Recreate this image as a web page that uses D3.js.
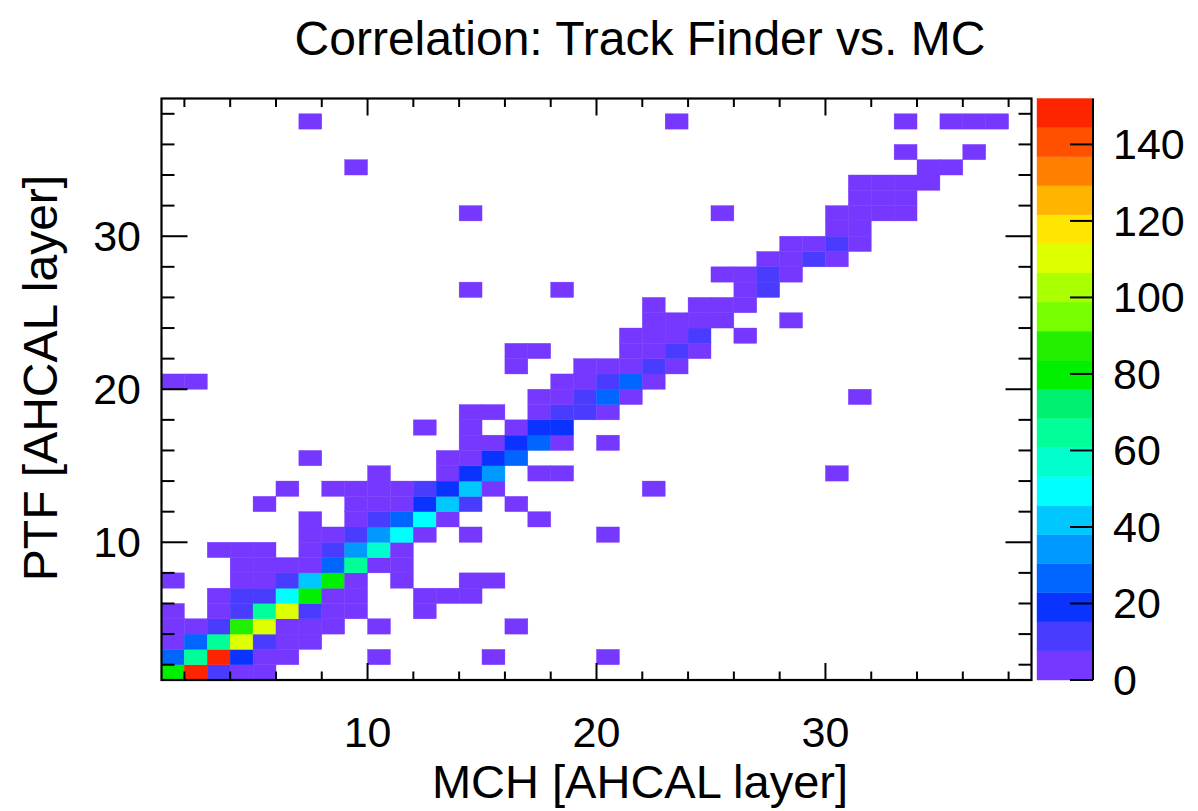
<!DOCTYPE html>
<html><head><meta charset="utf-8">
<script src="https://cdn.jsdelivr.net/npm/d3@7"></script>
<style>
body{margin:0;background:#fff}
svg{display:block}
text{font-family:"Liberation Sans",Arial,Helvetica,sans-serif;fill:#000}
</style>
</head><body>
<svg id="c" width="1198" height="811"></svg>
<script>
// ---------------- data ----------------
const chartTitle = "Correlation: Track Finder vs. MC";
const xTitle = "MCH [AHCAL layer]";
const yTitle = "PTF [AHCAL layer]";
const xDomain = [1, 39];
const yDomain = [1, 39];
const xTickLabels = [10, 20, 30];
const yTickLabels = [10, 20, 30];
const zTickLabels = [0, 20, 40, 60, 80, 100, 120, 140];
const zMax = 152;
const nContours = 20;
const palette = ["#7638ff","#4a3cff","#0a33ff","#0066ff","#0099ff","#00c8ff","#00ffff","#00ffcc",
                 "#00ff99","#00f070","#00f000","#22ee00","#77ff00","#aaff00","#ddff00","#ffe600",
                 "#ffb400","#ff8000","#ff5000","#ff2400"];
// [MCH bin, PTF bin, entries]
const cells = [
 [1,1,80],[2,1,152],[3,1,11],[4,1,5],[5,1,3],
 [1,2,27],[2,2,64],[3,2,146],[4,2,19],[5,2,6],[6,2,2],[10,2,1],[15,2,1],[20,2,1],
 [1,3,4],[2,3,27],[3,3,63],[4,3,110],[5,3,12],[6,3,5],[7,3,2],
 [1,4,3],[2,4,4],[3,4,10],[4,4,85],[5,4,110],[6,4,6],[7,4,4],[8,4,2],[10,4,1],[16,4,1],
 [1,5,2],[3,5,3],[4,5,9],[5,5,63],[6,5,110],[7,5,11],[8,5,4],[9,5,2],[12,5,1],
 [3,6,2],[4,6,9],[5,6,10],[6,6,49],[7,6,80],[8,6,6],[9,6,3],[12,6,1],[13,6,2],[14,6,1],
 [1,7,1],[4,7,3],[5,7,4],[6,7,12],[7,7,42],[8,7,82],[9,7,5],[11,7,2],[14,7,1],[15,7,1],
 [4,8,2],[5,8,3],[6,8,4],[7,8,5],[8,8,27],[9,8,64],[10,8,6],[11,8,3],
 [3,9,1],[4,9,2],[5,9,2],[7,9,3],[8,9,11],[9,9,35],[10,9,57],[11,9,6],
 [7,10,2],[8,10,4],[9,10,12],[10,10,35],[11,10,50],[12,10,5],[14,10,1],[20,10,1],
 [7,11,1],[9,11,3],[10,11,10],[11,11,27],[12,11,49],[13,11,6],[17,11,1],
 [5,12,1],[9,12,2],[10,12,4],[11,12,6],[12,12,19],[13,12,42],[14,12,10],[16,12,2],
 [6,13,1],[8,13,2],[9,13,3],[10,13,4],[11,13,6],[12,13,12],[13,13,19],[14,13,42],[15,13,5],[22,13,1],
 [10,14,1],[13,14,5],[14,14,19],[15,14,35],[17,14,3],[18,14,2],[30,14,1],
 [7,15,1],[13,15,3],[14,15,6],[15,15,20],[16,15,26],
 [14,16,4],[15,16,5],[16,16,18],[17,16,27],[18,16,5],[20,16,1],
 [12,17,1],[14,17,2],[16,17,3],[17,17,19],[18,17,20],
 [14,18,2],[15,18,2],[17,18,4],[18,18,11],[19,18,12],[20,18,3],
 [17,19,3],[18,19,5],[19,19,12],[20,19,28],[21,19,4],[31,19,1],
 [1,20,1],[2,20,1],[18,20,4],[19,20,5],[20,20,12],[21,20,26],[22,20,4],
 [16,21,1],[19,21,2],[20,21,4],[21,21,6],[22,21,10],[23,21,4],
 [16,22,2],[17,22,1],[21,22,3],[22,22,6],[23,22,11],[24,22,4],
 [21,23,2],[22,23,4],[23,23,6],[24,23,10],[26,23,1],
 [22,24,2],[23,24,3],[24,24,5],[25,24,4],[28,24,1],
 [22,25,1],[24,25,3],[25,25,5],[26,25,4],
 [14,26,1],[18,26,1],[26,26,6],[27,26,11],
 [25,27,2],[26,27,5],[27,27,12],[28,27,4],
 [27,28,5],[28,28,6],[29,28,11],[30,28,3],
 [28,29,3],[29,29,6],[30,29,12],[31,29,4],
 [30,30,5],[31,30,4],
 [14,31,1],[25,31,1],[30,31,3],[31,31,5],[32,31,4],[33,31,2],
 [31,32,3],[32,32,4],[33,32,3],
 [31,33,2],[32,33,3],[33,33,4],[34,33,2],
 [9,34,1],[34,34,2],[35,34,2],
 [33,35,1],[36,35,1],
 [7,37,1],[23,37,1],[33,37,1],[35,37,1],[36,37,2],[37,37,1]
];

// ---------------- layout ----------------
const plot = {left: 161.5, right: 1031.5, top: 98.5, bottom: 680};
const cbar = {left: 1037, right: 1093};
const svg = d3.select("#c");

const x = d3.scaleLinear().domain(xDomain).range([plot.left, plot.right]);
const y = d3.scaleLinear().domain(yDomain).range([plot.bottom, plot.top]);
const z = d3.scaleLinear().domain([0, zMax]).range([plot.bottom, plot.top]);
const colorOf = v => palette[Math.max(0, Math.min(nContours - 1, Math.floor(v / (zMax / nContours))))];

// cells
svg.append("g").selectAll("rect").data(cells).join("rect")
  .attr("x", d => x(d[0]))
  .attr("y", d => y(d[1] + 1))
  .attr("width", d => x(d[0] + 1) - x(d[0]))
  .attr("height", d => y(d[1]) - y(d[1] + 1))
  .attr("fill", d => colorOf(d[2]))
  .attr("stroke", d => colorOf(d[2]))
  .attr("stroke-width", 0.4);

// ticks
const tickG = svg.append("g").attr("stroke", "#000").attr("stroke-width", 2);
const xt = d3.range(2, 39, 2);
const yt = d3.range(2, 39, 2);
xt.forEach(v => {
  const L = (v % 10 === 0) ? 17 : 8.5;
  tickG.append("line").attr("x1", x(v)).attr("x2", x(v)).attr("y1", plot.bottom).attr("y2", plot.bottom - L);
  tickG.append("line").attr("x1", x(v)).attr("x2", x(v)).attr("y1", plot.top).attr("y2", plot.top + L);
});
yt.forEach(v => {
  const L = (v % 10 === 0) ? 26 : 13;
  tickG.append("line").attr("y1", y(v)).attr("y2", y(v)).attr("x1", plot.left).attr("x2", plot.left + L);
  tickG.append("line").attr("y1", y(v)).attr("y2", y(v)).attr("x1", plot.right).attr("x2", plot.right - L);
});

// frame
svg.append("rect").attr("x", plot.left).attr("y", plot.top)
  .attr("width", plot.right - plot.left).attr("height", plot.bottom - plot.top)
  .attr("fill", "none").attr("stroke", "#000").attr("stroke-width", 2.2);

// tick labels
svg.append("g").selectAll("text").data(xTickLabels).join("text")
  .attr("x", d => x(d)).attr("y", 747).attr("text-anchor", "middle")
  .attr("font-size", 43).text(d => d);
svg.append("g").selectAll("text").data(yTickLabels).join("text")
  .attr("x", 141).attr("y", d => y(d) + 15).attr("text-anchor", "end")
  .attr("font-size", 43).text(d => d);

// colour bar
const bands = d3.range(nContours);
svg.append("g").selectAll("rect").data(bands).join("rect")
  .attr("x", cbar.left).attr("width", cbar.right - cbar.left)
  .attr("y", k => z((k + 1) * zMax / nContours))
  .attr("height", k => z(k * zMax / nContours) - z((k + 1) * zMax / nContours))
  .attr("fill", k => palette[k]).attr("stroke", k => palette[k]).attr("stroke-width", 0.4);
svg.append("line").attr("x1", cbar.right).attr("x2", cbar.right)
  .attr("y1", plot.top).attr("y2", plot.bottom).attr("stroke", "#000").attr("stroke-width", 2);
svg.append("g").selectAll("line").data(zTickLabels).join("line")
  .attr("x1", cbar.right).attr("x2", cbar.right - 23)
  .attr("y1", d => z(d)).attr("y2", d => z(d))
  .attr("stroke", "#000").attr("stroke-width", 2);
svg.append("g").selectAll("text").data(zTickLabels).join("text")
  .attr("x", 1113).attr("y", d => z(d) + 15).attr("text-anchor", "start")
  .attr("font-size", 43).text(d => d);

// titles
svg.append("text").attr("x", 640).attr("y", 55).attr("text-anchor", "middle")
  .attr("font-size", 48).text(chartTitle);
svg.append("text").attr("x", 640).attr("y", 798).attr("text-anchor", "middle")
  .attr("font-size", 47).text(xTitle);
svg.append("text").attr("transform", "translate(57,378) rotate(-90)").attr("text-anchor", "middle")
  .attr("font-size", 48).text(yTitle);
</script>
</body></html>
